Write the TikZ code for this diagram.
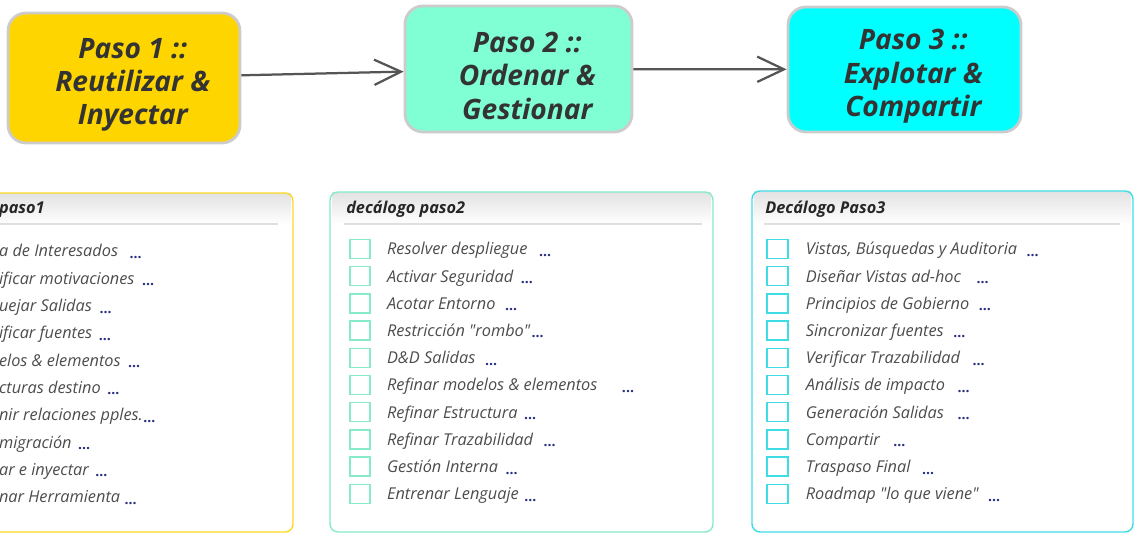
\documentclass[tikz,border=0pt]{standalone}
\usepackage{fontspec}
\setmainfont{Open Sans}
\usetikzlibrary{arrows.meta, positioning}

\definecolor{pasoGold}{HTML}{FFD500}
\definecolor{pasoAqua}{HTML}{80FFD4}
\definecolor{pasoCyan}{HTML}{00FFFF}
\definecolor{lineGold}{HTML}{FFD823}
\definecolor{lineAqua}{HTML}{86EACB}
\definecolor{lineCyan}{HTML}{3EDDE6}
\definecolor{dotNavy}{HTML}{2A3080}
\definecolor{arrowGray}{HTML}{555555}

\begin{document}
\begin{tikzpicture}[
  pasoBox/.style={draw=gray!40, line width=2pt, rounded corners=0.45cm},
  pasoText/.style={align=center, xshift=0.22cm, yshift=-0.17cm, text=black!80, font=\fontsize{20}{23.6}\selectfont\bfseries\itshape},
  itemText/.style={anchor=base west, inner sep=0pt, text=black!70, font=\fontsize{11.6}{13}\selectfont\itshape},
  listTitle/.style={anchor=base west, inner sep=0pt, text=black!85, font=\fontsize{11.6}{13}\selectfont\bfseries\itshape},
  moreDots/.style={inner sep=0pt, yshift=-1pt, text=dotNavy, font=\fontsize{10}{11}\selectfont\bfseries},
  stepArrow/.style={draw=arrowGray, line width=1.6pt, -{Straight Barb[length=19pt,width=18pt]}}
]
\useasboundingbox (0,0) rectangle (28.375,13.4);
\clip (0,0) rectangle (28.375,13.4);

% the three steps
\node[pasoBox, fill=pasoGold, minimum width=5.8cm, minimum height=3.25cm, label={[pasoText]center:Paso 1 ::\\Reutilizar \&\\Inyectar}] (stepOne) at (3.1,11.45) {};
\node[pasoBox, fill=pasoAqua, minimum width=5.675cm, minimum height=3.15cm, label={[pasoText]center:Paso 2 ::\\Ordenar \&\\Gestionar}] (stepTwo) at (12.9625,11.675) {};
\node[pasoBox, fill=pasoCyan, minimum width=5.825cm, minimum height=3.125cm, label={[pasoText]center:Paso 3 ::\\Explotar \&\\Compartir}] (stepThree) at (22.6125,11.6625) {};
\draw[stepArrow] (stepOne) -- (stepTwo);
\draw[stepArrow] (stepTwo) -- (stepThree);

% panel frames
\shade[top color=gray!22, bottom color=white] (-0.3,7.8) rectangle (7.28,8.55);
\draw[lineGold, line width=1pt, rounded corners=0.2cm] (-0.3,0.1) rectangle (7.325,8.575);
\draw[gray!25, line width=1.4pt] (-0.3,7.8) -- (6.95,7.8);
\shade[top color=gray!22, bottom color=white] (8.3,7.8) rectangle (17.78,8.58);
\draw[lineAqua, line width=1pt, rounded corners=0.2cm] (8.25,0.1) rectangle (17.825,8.6);
\draw[gray!25, line width=1.4pt] (8.6,7.8) -- (17.55,7.8);
\shade[top color=gray!22, bottom color=white] (18.85,7.8) rectangle (28.28,8.6);
\draw[lineCyan, line width=1pt, rounded corners=0.2cm] (18.8,0.1) rectangle (28.325,8.625);
\draw[gray!25, line width=1.4pt] (19.1,7.8) -- (28.0,7.8);

\node[listTitle] (titleOne) at (-0.03,8.05) {paso1};
\node[listTitle] (titleTwo) at (8.65,8.05) {decálogo paso2};
\node[listTitle] (titleThree) at (19.125,8.05) {Decálogo Paso3};

% paso1 list
\node[itemText] (oneA) at (-0.03,6.975) {a de Interesados};
\node[moreDots, base right=0.275cm of oneA] {...};
\node[itemText] (oneB) at (-0.03,6.2925) {ificar motivaciones};
\node[moreDots, base right=0.175cm of oneB] {...};
\node[itemText] (oneC) at (-0.03,5.61) {uejar Salidas};
\node[moreDots, base right=0.175cm of oneC] {...};
\node[itemText] (oneD) at (-0.03,4.9275) {ificar fuentes};
\node[moreDots, base right=0.15cm of oneD] {...};
\node[itemText] (oneE) at (-0.03,4.245) {elos \& elementos};
\node[moreDots, base right=0.175cm of oneE] {...};
\node[itemText] (oneF) at (-0.03,3.5625) {cturas destino};
\node[moreDots, base right=0.15cm of oneF] {...};
\node[itemText] (oneG) at (-0.03,2.88) {nir relaciones pples.};
\node[moreDots, base right=0cm of oneG] {...};
\node[itemText] (oneH) at (-0.03,2.1975) {migración};
\node[moreDots, base right=0.15cm of oneH] {...};
\node[itemText] (oneI) at (-0.03,1.515) {ar e inyectar};
\node[moreDots, base right=0.15cm of oneI] {...};
\node[itemText] (oneJ) at (-0.03,0.8325) {nar Herramienta};
\node[moreDots, base right=0.1cm of oneJ] {...};

% paso2 list
\draw[lineAqua, line width=1.1pt] (8.75,6.9375) rectangle (9.25,7.4125);
\draw[lineAqua, line width=1.1pt] (8.75,6.2575) rectangle (9.25,6.7325);
\draw[lineAqua, line width=1.1pt] (8.75,5.5775) rectangle (9.25,6.0525);
\draw[lineAqua, line width=1.1pt] (8.75,4.8975) rectangle (9.25,5.3725);
\draw[lineAqua, line width=1.1pt] (8.75,4.2175) rectangle (9.25,4.6925);
\draw[lineAqua, line width=1.1pt] (8.75,3.5375) rectangle (9.25,4.0125);
\draw[lineAqua, line width=1.1pt] (8.75,2.8575) rectangle (9.25,3.3325);
\draw[lineAqua, line width=1.1pt] (8.75,2.1775) rectangle (9.25,2.6525);
\draw[lineAqua, line width=1.1pt] (8.75,1.4975) rectangle (9.25,1.9725);
\draw[lineAqua, line width=1.1pt] (8.75,0.8175) rectangle (9.25,1.2925);
\node[itemText] (twoA) at (9.67,7.025) {Resolver despliegue};
\node[moreDots, base right=0.275cm of twoA] {...};
\node[itemText] (twoB) at (9.67,6.345) {Activar Seguridad};
\node[moreDots, base right=0.175cm of twoB] {...};
\node[itemText] (twoC) at (9.67,5.665) {Acotar Entorno};
\node[moreDots, base right=0.225cm of twoC] {...};
\node[itemText] (twoD) at (9.67,4.985) {Restricción \textquotedbl rombo\textquotedbl};
\node[moreDots, base right=0.025cm of twoD] {...};
\node[itemText] (twoE) at (9.67,4.305) {D\&D Salidas};
\node[moreDots, base right=0.225cm of twoE] {...};
\node[itemText] (twoF) at (9.67,3.625) {Refinar modelos \& elementos};
\node[moreDots, base right=0.6cm of twoF] {...};
\node[itemText] (twoG) at (9.67,2.945) {Refinar Estructura};
\node[moreDots, base right=0.15cm of twoG] {...};
\node[itemText] (twoH) at (9.67,2.265) {Refinar Trazabilidad};
\node[moreDots, base right=0.25cm of twoH] {...};
\node[itemText] (twoI) at (9.67,1.585) {Gestión Interna};
\node[moreDots, base right=0.175cm of twoI] {...};
\node[itemText] (twoJ) at (9.67,0.905) {Entrenar Lenguaje};
\node[moreDots, base right=0.125cm of twoJ] {...};

% paso3 list
\draw[lineCyan, line width=1.1pt] (19.175,6.9375) rectangle (19.7,7.4125);
\draw[lineCyan, line width=1.1pt] (19.175,6.2575) rectangle (19.7,6.7325);
\draw[lineCyan, line width=1.1pt] (19.175,5.5775) rectangle (19.7,6.0525);
\draw[lineCyan, line width=1.1pt] (19.175,4.8975) rectangle (19.7,5.3725);
\draw[lineCyan, line width=1.1pt] (19.175,4.2175) rectangle (19.7,4.6925);
\draw[lineCyan, line width=1.1pt] (19.175,3.5375) rectangle (19.7,4.0125);
\draw[lineCyan, line width=1.1pt] (19.175,2.8575) rectangle (19.7,3.3325);
\draw[lineCyan, line width=1.1pt] (19.175,2.1775) rectangle (19.7,2.6525);
\draw[lineCyan, line width=1.1pt] (19.175,1.4975) rectangle (19.7,1.9725);
\draw[lineCyan, line width=1.1pt] (19.175,0.8175) rectangle (19.7,1.2925);
\node[itemText] (threeA) at (20.14,7.025) {Vistas, Búsquedas y Auditoria};
\node[moreDots, base right=0.225cm of threeA] {...};
\node[itemText] (threeB) at (20.14,6.345) {Diseñar Vistas ad-hoc};
\node[moreDots, base right=0.375cm of threeB] {...};
\node[itemText] (threeC) at (20.14,5.665) {Principios de Gobierno};
\node[moreDots, base right=0.225cm of threeC] {...};
\node[itemText] (threeD) at (20.14,4.985) {Sincronizar fuentes};
\node[moreDots, base right=0.225cm of threeD] {...};
\node[itemText] (threeE) at (20.14,4.305) {Verificar Trazabilidad};
\node[moreDots, base right=0.3cm of threeE] {...};
\node[itemText] (threeF) at (20.14,3.625) {Análisis de impacto};
\node[moreDots, base right=0.3cm of threeF] {...};
\node[itemText] (threeG) at (20.14,2.945) {Generación Salidas};
\node[moreDots, base right=0.325cm of threeG] {...};
\node[itemText] (threeH) at (20.14,2.265) {Compartir};
\node[moreDots, base right=0.325cm of threeH] {...};
\node[itemText] (threeI) at (20.14,1.585) {Traspaso Final};
\node[moreDots, base right=0.275cm of threeI] {...};
\node[itemText] (threeJ) at (20.14,0.905) {Roadmap \textquotedbl lo que viene\textquotedbl};
\node[moreDots, base right=0.225cm of threeJ] {...};

\end{tikzpicture}
\end{document}
